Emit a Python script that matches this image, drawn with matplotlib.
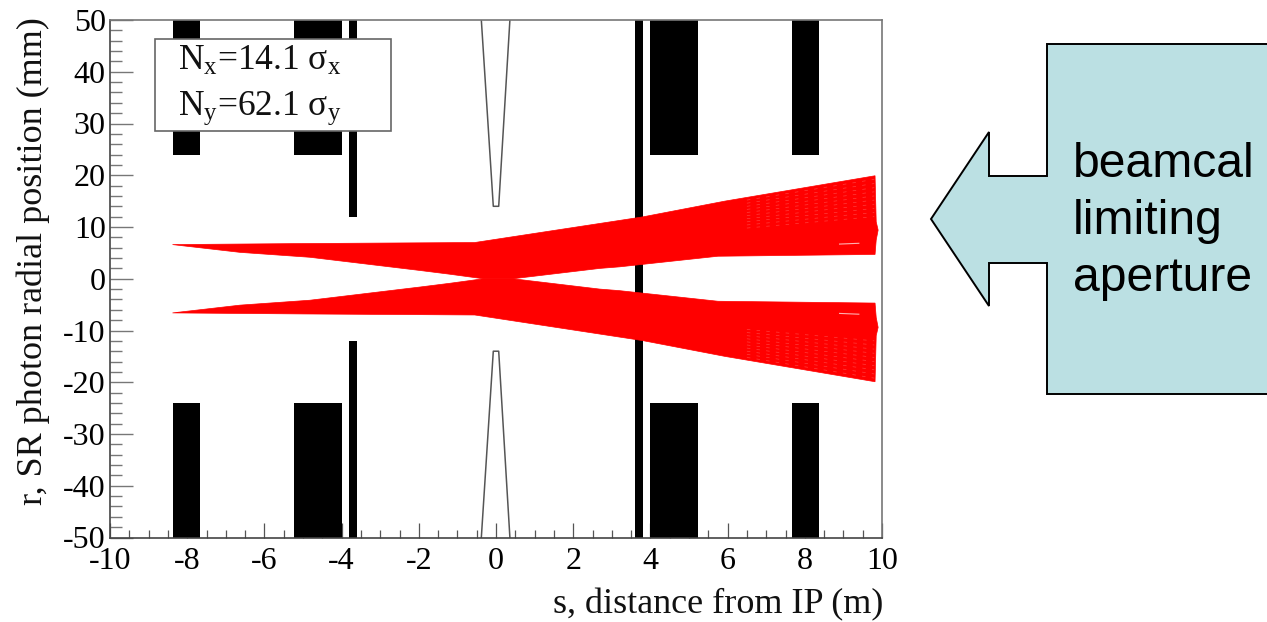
import matplotlib
matplotlib.use("Agg")
import matplotlib.pyplot as plt
from matplotlib.patches import Polygon
from matplotlib.ticker import MultipleLocator

plt.rcParams['font.family'] = ['Liberation Serif', 'DejaVu Sans']
plt.rcParams['axes.unicode_minus'] = False
plt.rcParams['mathtext.fontset'] = 'custom'
plt.rcParams['mathtext.rm'] = 'Liberation Serif'
plt.rcParams['mathtext.it'] = 'Liberation Serif:italic'
plt.rcParams['mathtext.bf'] = 'Liberation Serif:bold'

# ---- data ----
x_ticks = [-10, -8, -6, -4, -2, 0, 2, 4, 6, 8, 10]
y_ticks = [-50, -40, -30, -20, -10, 0, 10, 20, 30, 40, 50]

magnet_left = [-8.37, -5.24, 4.0, 7.67]
magnet_right = [-7.67, -4.0, 5.24, 8.37]
magnet_inner = 24.0
wall_left = [-3.8, 3.6]
wall_right = [-3.6, 3.8]
wall_inner = [12.0, 0.0]

cone_s = [-0.38, -0.07, 0.07, 0.36]
cone_r = [50, 14, 14, 50]

fan_s = [-8.38, -5.0, -0.55, 3.8, 5.93, 9.82, 9.85, 9.9, 9.85, 9.82, 5.75, 3.2,
         2.69, 0.44, -0.33, -1.19, -1.97, -4.82, -6.63]
fan_r = [6.6, 6.8, 7.0, 11.95, 15.0, 19.9, 11.0, 9.4, 7.5, 4.7, 4.35, 2.3,
         2.0, 0.0, 0.0, 0.87, 1.6, 4.15, 5.1]

streak_s = [6.5, 9.8]
streak_start = [15.2, 14.6, 14.0, 13.4, 12.8, 12.2, 11.6, 11.0, 10.4, 9.8]
streak_end = [19.2, 18.4, 17.6, 16.8, 16.0, 15.2, 14.4, 13.6, 12.8, 12.0]
gap_s = [8.9, 9.4]
gap_r = [6.7, 6.85]

callout_x = [931, 989, 989, 1047, 1047, 1268, 1268, 1047, 1047, 989, 989]
callout_y = [219, 132, 176, 176, 44, 44, 394, 394, 263, 263, 306]
callout_lines = ["beamcal", "limiting", "aperture"]
legend_lines = [r"N$_{\mathrm{x}}$=14.1 σ$_{\mathrm{x}}$",
                r"N$_{\mathrm{y}}$=62.1 σ$_{\mathrm{y}}$"]

# ---- figure ----
W, H = 1267, 622
fig = plt.figure(figsize=(W / 100, H / 100), dpi=100, facecolor='white')
L, R, T, B = 110, 882, 20, 537.5
ax = fig.add_axes([L / W, 1 - B / H, (R - L) / W, (B - T) / H])
ax.set_xlim(-10, 10)
ax.set_ylim(-50, 50)

for a, b in zip(magnet_left, magnet_right):
    ax.bar(a, 50 - magnet_inner, width=b - a, bottom=magnet_inner, align='edge', color='black', zorder=2)
    ax.bar(a, 50 - magnet_inner, width=b - a, bottom=-50, align='edge', color='black', zorder=2)
for a, b, r in zip(wall_left, wall_right, wall_inner):
    ax.bar(a, 50 - r, width=b - a, bottom=r, align='edge', color='black', zorder=2)
    ax.bar(a, 50 - r, width=b - a, bottom=-50, align='edge', color='black', zorder=2)

ax.plot(cone_s, cone_r, color='#555555', lw=1.1, zorder=2)
ax.plot(cone_s, [-v for v in cone_r], color='#555555', lw=1.1, zorder=2)

ax.fill(fan_s, fan_r, color='#ff0000', lw=0.5, zorder=3)
ax.fill(fan_s, [-v for v in fan_r], color='#ff0000', lw=0.5, zorder=3)
for a, b in zip(streak_start, streak_end):
    for sign in (1, -1):
        ax.plot(streak_s, [sign * a, sign * b], color='#ff3c3c', lw=0.5,
                ls=(0, (5, 9)), zorder=4)
for sign in (1, -1):
    ax.plot(gap_s, [sign * v for v in gap_r], color='#ffb0b0', lw=0.8, zorder=4)

ax.set_xticks(x_ticks)
ax.set_xticklabels([str(v) for v in x_ticks])
ax.set_yticks(y_ticks)
ax.set_yticklabels([str(v) for v in y_ticks])
ax.xaxis.set_minor_locator(MultipleLocator(0.5))
ax.yaxis.set_minor_locator(MultipleLocator(2))
px = 0.72
ax.tick_params(axis='x', which='major', direction='in', length=15 * px, width=0.9, color='#555555',
               labelsize=23, pad=7, zorder=1)
ax.tick_params(axis='x', which='minor', direction='in', length=8 * px, width=0.9, color='#555555', zorder=1)
ax.tick_params(axis='y', which='major', direction='in', length=23 * px, width=1.0, color='#777777',
               labelsize=23, pad=3, zorder=1)
ax.tick_params(axis='y', which='minor', direction='in', length=12 * px, width=1.0, color='#777777', zorder=1)
for name, sp in ax.spines.items():
    sp.set_color('#444444' if name in ('left', 'bottom') else '#777777')
    sp.set_linewidth(1.2)
    sp.set_zorder(5)

# legend box and axis titles placed in pixel space
ov = fig.add_axes([0, 0, 1, 1], facecolor='none')
ov.set_xlim(0, W)
ov.set_ylim(H, 0)
ov.axis('off')
ov.add_patch(Polygon([(155, 39), (390.5, 39), (390.5, 131), (155, 131)], closed=True,
                     facecolor='white', edgecolor='#666666', lw=1.2, zorder=6))
ov.text(178, 70, legend_lines[0], fontsize=25.5, va='baseline', ha='left', zorder=7, color='#111111')
ov.text(178, 115, legend_lines[1], fontsize=25.5, va='baseline', ha='left', zorder=7, color='#111111')
ov.text(883, 613, "s, distance from IP (m)", fontsize=26, ha='right', va='baseline', color='#111111')
ov.text(33, 261, "r, SR photon radial position (mm)", fontsize=26, rotation=90,
        ha='center', va='center', rotation_mode='anchor', color='#111111')

ov.add_patch(Polygon(list(zip(callout_x, callout_y)), closed=True, facecolor='#BBE0E3',
                     edgecolor='black', lw=1.4, joinstyle='miter', clip_on=False))
for s, yb in zip(callout_lines, [177, 234, 291]):
    ov.text(1073, yb, s, family='Liberation Sans', fontsize=34.7, va='baseline', ha='left', color='black')

fig.savefig('out.png', dpi=100, facecolor='white')
